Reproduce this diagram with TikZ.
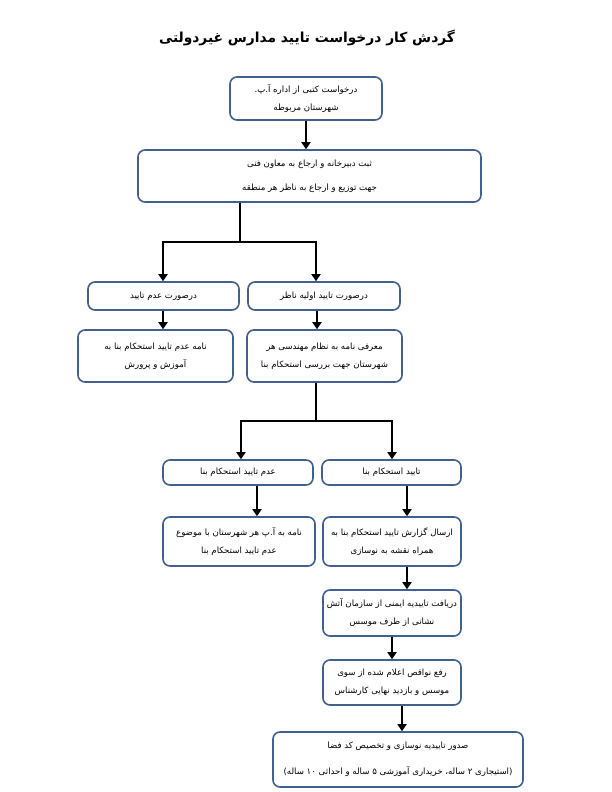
\documentclass[tikz,border=0pt]{standalone}
\usepackage{fontspec}
\newfontfamily\fa[Script=Arabic]{DejaVu Sans}
\TeXXeTstate=1
\usetikzlibrary{arrows.meta,calc}
\definecolor{bord}{HTML}{41608C}
\newcommand\myrl[1]{\beginR #1\endR}
\begin{document}
\begin{tikzpicture}[x=1pt,y=-1pt,
 box/.style={draw=bord, line width=1.6pt, rounded corners=7pt, fill=white, inner sep=0pt, align=center, font=\fa\fontsize{8.6}{18}\selectfont},
 arr/.style={line width=1.8pt, -{Triangle[length=7pt,width=9pt]}},
 ln/.style={line width=1.8pt}]
\useasboundingbox (0,0) rectangle (612,792);
\node[font=\fa\bfseries\fontsize{13.8}{17}\selectfont] (title) at (307,38) {\myrl{گردش کار درخواست تایید مدارس غیردولتی}};

\node[box, minimum width=152pt, minimum height=43pt] (b1) at (306,98.5) {\myrl{درخواست کتبی از اداره آ.پ.}\\\myrl{شهرستان مربوطه}};
\node[box, minimum width=343pt, minimum height=52pt] (b2) at (309.5,176) {\myrl{ثبت دبیرخانه و ارجاع به معاون فنی}\\[6pt]\myrl{جهت توزیع و ارجاع به ناظر هر منطقه}};
\node[box, minimum width=151pt, minimum height=28pt] (b3L) at (163.5,296) {\myrl{درصورت عدم تایید}};
\node[box, minimum width=152pt, minimum height=28pt] (b3R) at (324,296) {\myrl{درصورت تایید اولیه ناظر}};
\node[box, minimum width=155pt, minimum height=52pt] (b4L) at (155.5,356) {\myrl{نامه عدم تایید استحکام بنا به}\\\myrl{آموزش و پرورش}};
\node[box, minimum width=155pt, minimum height=52pt] (b4R) at (324.5,356) {\myrl{معرفی نامه به نظام مهندسی هر}\\\myrl{شهرستان جهت بررسی استحکام بنا}};
\node[box, minimum width=150pt, minimum height=25pt] (b5L) at (238,472.5) {\myrl{عدم تایید استحکام بنا}};
\node[box, minimum width=139pt, minimum height=25pt] (b5R) at (391.5,472.5) {\myrl{تایید استحکام بنا}};
\node[box, minimum width=152pt, minimum height=49pt] (b6L) at (239,541.5) {\myrl{نامه به آ.پ هر شهرستان با موضوع}\\\myrl{عدم تایید استحکام بنا}};
\node[box, minimum width=138pt, minimum height=49pt] (b6R) at (392,541.5) {\myrl{ارسال گزارش تایید استحکام بنا به}\\\myrl{همراه نقشه به نوسازی}};
\node[box, minimum width=138pt, minimum height=46pt] (b7) at (392,613) {\myrl{دریافت تاییدیه ایمنی از سازمان آتش}\\\myrl{نشانی از طرف موسس}};
\node[box, minimum width=138pt, minimum height=45pt] (b8) at (392,682.5) {\myrl{رفع نواقص اعلام شده از سوی}\\\myrl{موسس و بازدید نهایی کارشناس}};
\node[box, minimum width=250pt, minimum height=55pt] (b9) at (398,759.5) {\myrl{صدور تاییدیه نوسازی و تخصیص کد فضا}\\[8pt]\myrl{(استیجاری ۲ ساله، خریداری آموزشی ۵ ساله و احداثی \beginL ۱۰\endL{} ساله)}};

\coordinate (j1) at (240,242);
\coordinate (j2) at (316,421);
\draw[arr] (b1.south) -- (b2.north -| b1.south);
\draw[ln] (b2.south -| j1) -- (j1);
\draw[ln] (163,242) -- (316,242);
\draw[arr] (j1) -| (b3L.north -| 163,0);
\draw[arr] (j1) -| (b3R.north -| 316,0);
\draw[arr] (b3L.south -| 163,0) -- (b4L.north -| 163,0);
\draw[arr] (b3R.south -| 317,0) -- (b4R.north -| 317,0);
\draw[ln] (b4R.south -| j2) -- (j2);
\draw[arr] (j2) -| (b5L.north -| 241,0);
\draw[arr] (j2) -| (b5R.north -| 392,0);
\draw[arr] (b5L.south -| 257,0) -- (b6L.north -| 257,0);
\draw[arr] (b5R.south -| 407,0) -- (b6R.north -| 407,0);
\draw[arr] (b6R.south -| 407,0) -- (b7.north -| 407,0);
\draw[arr] (b7.south -| 392,0) -- (b8.north -| 392,0);
\draw[arr] (b8.south -| 402,0) -- (b9.north -| 402,0);
\end{tikzpicture}
\end{document}
